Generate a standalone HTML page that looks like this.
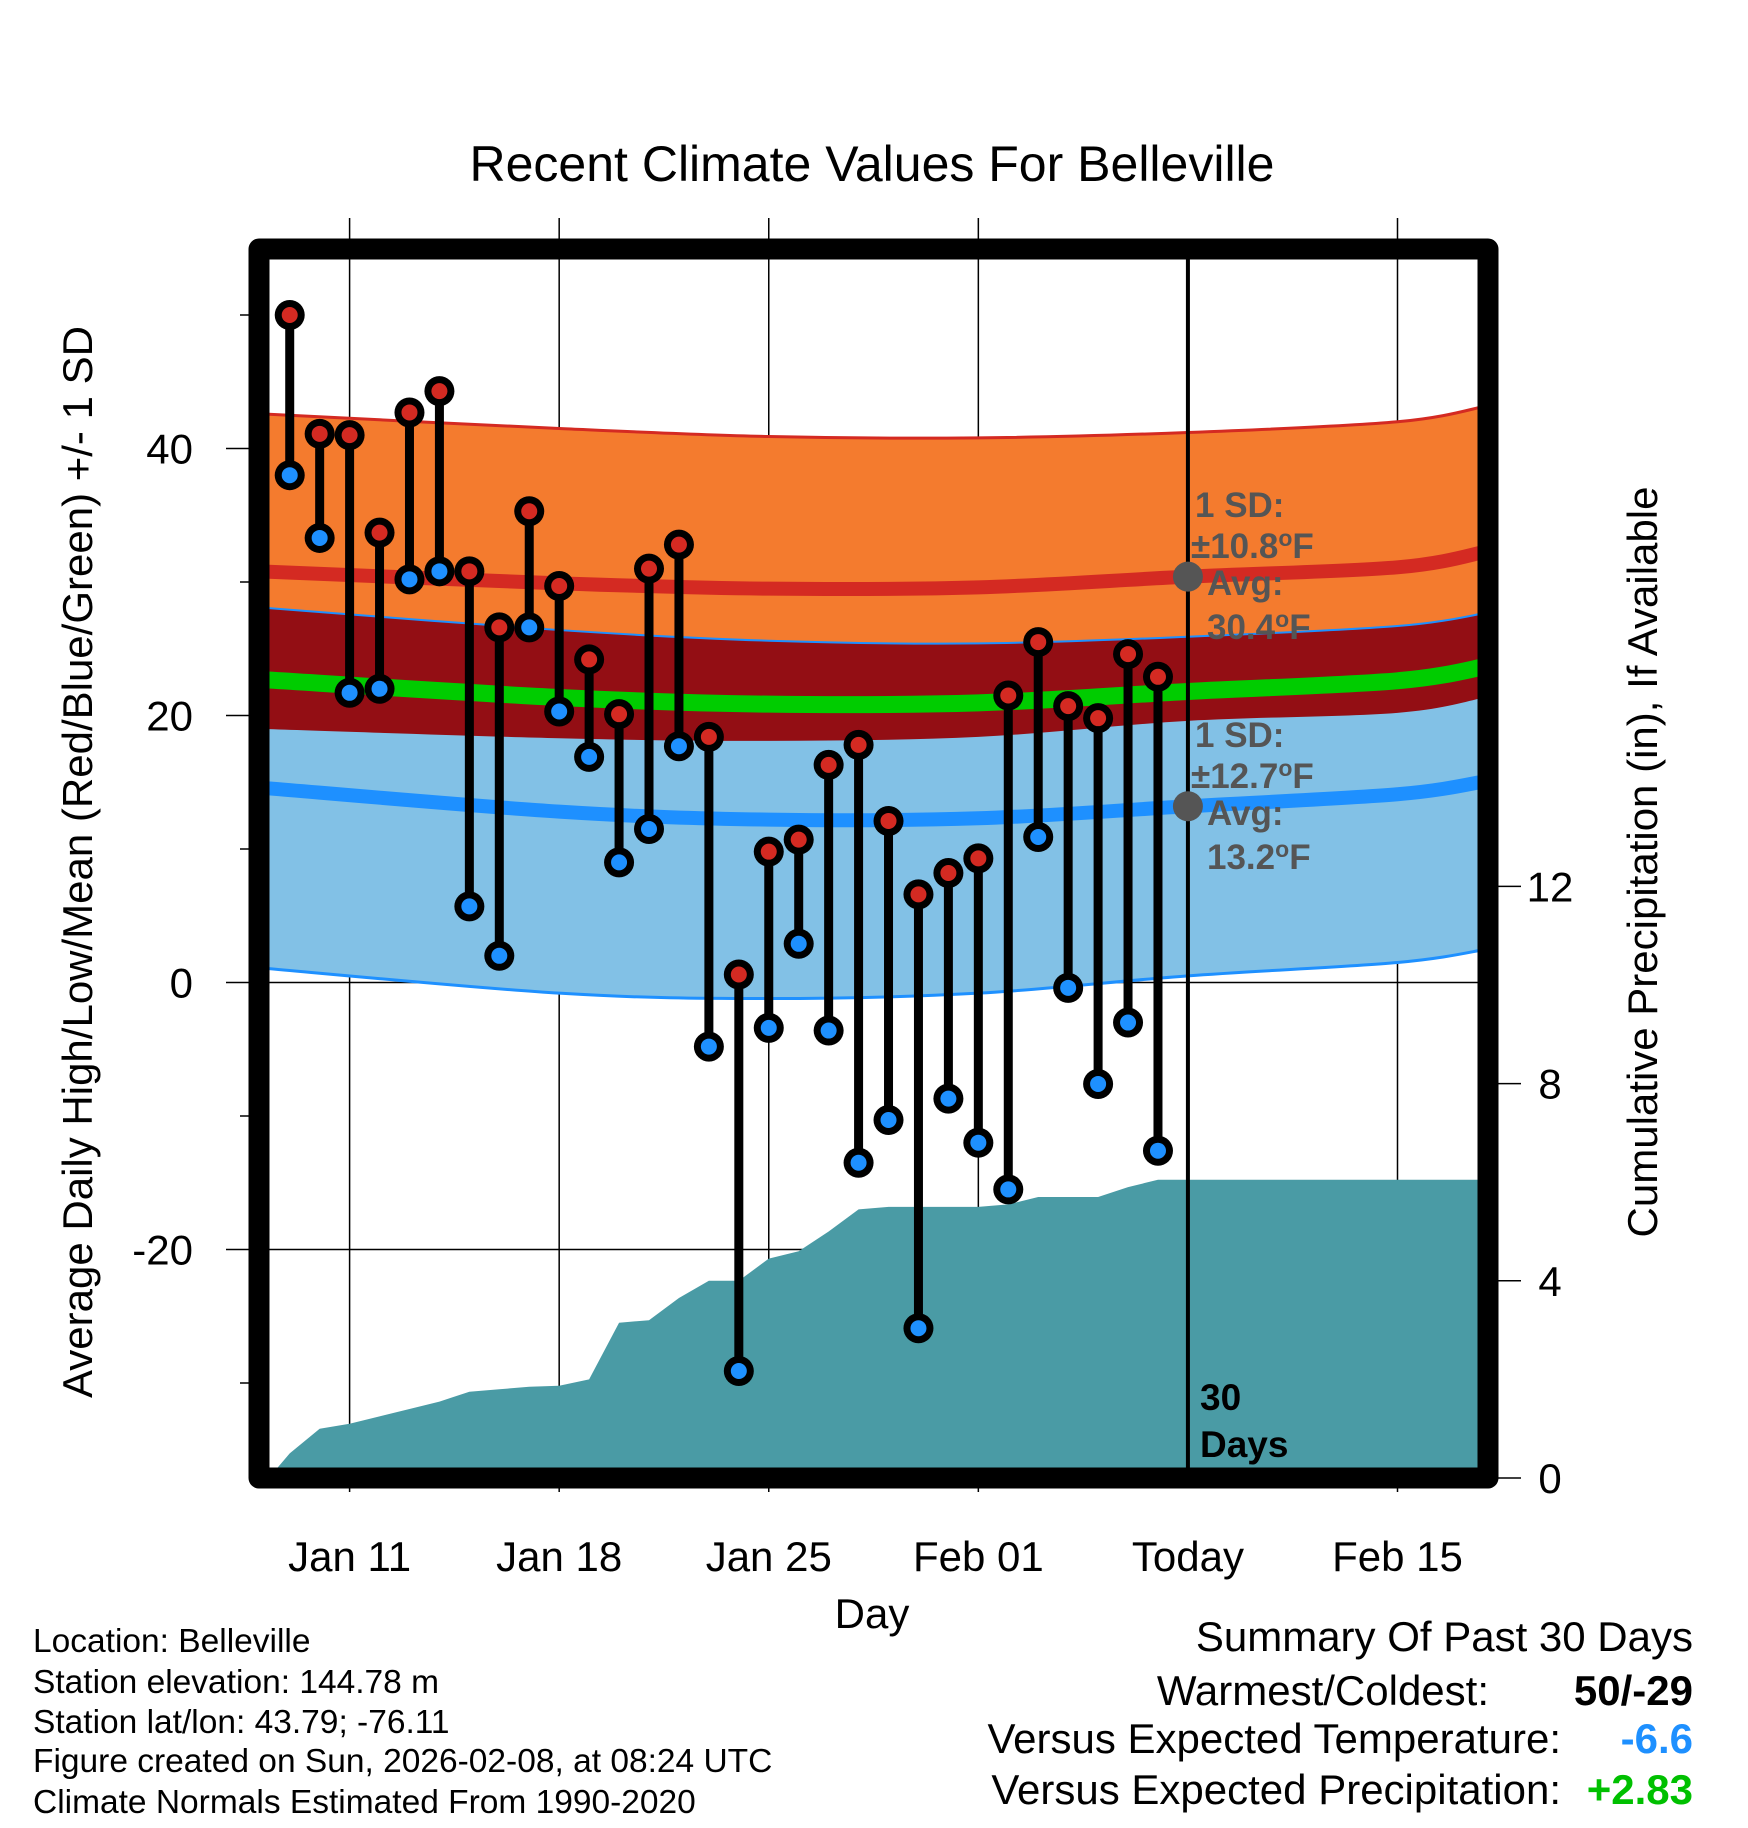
<!DOCTYPE html>
<html><head><meta charset="utf-8">
<style>
html,body{margin:0;padding:0;background:#fff;}
svg{display:block;font-family:"Liberation Sans",Arial,sans-serif;}
</style></head>
<body>
<svg id="chart" width="1748" height="1828" viewBox="0 0 1748 1828" xmlns="http://www.w3.org/2000/svg">
<defs><clipPath id="plotclip"><rect x="269" y="259" width="1210" height="1210"/></clipPath></defs>
<text x="872" y="181" font-size="50" text-anchor="middle">Recent Climate Values For Belleville</text>
<g id="grid"></g>
<g id="bands" clip-path="url(#plotclip)"></g>
<g id="precip" clip-path="url(#plotclip)"></g>
<g id="marks"></g>
<rect x="259" y="249" width="1229" height="1229" fill="none" stroke="#000" stroke-width="21" stroke-linejoin="round"/>
<g id="labels"></g>
<text transform="translate(92,862) rotate(-90)" font-size="42" text-anchor="middle">Average Daily High/Low/Mean (Red/Blue/Green) +/- 1 SD</text>
<text transform="translate(1657,862) rotate(-90)" font-size="42" text-anchor="middle">Cumulative Precipitation (in), If Available</text>
<text x="872" y="1628" font-size="42" text-anchor="middle">Day</text>
<g font-size="33.5">
<text x="33" y="1652">Location: Belleville</text>
<text x="33" y="1693">Station elevation: 144.78 m</text>
<text x="33" y="1733">Station lat/lon: 43.79; -76.11</text>
<text x="33" y="1772">Figure created on Sun, 2026-02-08, at 08:24 UTC</text>
<text x="33" y="1813">Climate Normals Estimated From 1990-2020</text>
</g>
<g font-size="42">
<text x="1693" y="1651" text-anchor="end">Summary Of Past 30 Days</text>
<text x="1489" y="1705" text-anchor="end">Warmest/Coldest:</text>
<text x="1693" y="1705" text-anchor="end" font-weight="bold">50/-29</text>
<text x="1561" y="1753" text-anchor="end">Versus Expected Temperature:</text>
<text x="1693" y="1753" text-anchor="end" font-weight="bold" fill="#1E90FF">-6.6</text>
<text x="1561" y="1804" text-anchor="end">Versus Expected Precipitation:</text>
<text x="1693" y="1804" text-anchor="end" font-weight="bold" fill="#00C000">+2.83</text>
</g>
</svg>
<script>
// ---- data ----
const dayLabels = ["Jan 9","Jan 10","Jan 11","Jan 12","Jan 13","Jan 14","Jan 15","Jan 16","Jan 17","Jan 18","Jan 19","Jan 20","Jan 21","Jan 22","Jan 23","Jan 24","Jan 25","Jan 26","Jan 27","Jan 28","Jan 29","Jan 30","Jan 31","Feb 1","Feb 2","Feb 3","Feb 4","Feb 5","Feb 6","Feb 7"];
const highs = [50,41.1,41.0,33.7,42.7,44.3,30.8,26.6,35.3,29.7,24.2,20.1,31.0,32.8,18.4,0.6,9.8,10.7,16.3,17.8,12.1,6.6,8.2,9.3,21.5,25.5,20.7,19.8,24.6,22.9];
const lows = [38.0,33.3,21.7,22.0,30.2,30.8,5.7,2.0,26.6,20.3,16.9,9.0,11.5,17.7,-4.8,-29.1,-3.4,2.9,-3.6,-13.5,-10.3,-25.9,-8.7,-12.0,-15.5,10.9,-0.4,-7.6,-3.0,-12.6];
const precip = [0.5,1.0,1.1,1.25,1.4,1.55,1.75,1.8,1.85,1.87,2.0,3.15,3.2,3.65,4.0,4.0,4.45,4.6,5.0,5.45,5.5,5.5,5.5,5.5,5.55,5.7,5.7,5.7,5.9,6.05];
// normals at knot days (offset from Jan 11)
const normDays = [-3,7,14,21,28,35,38];
const highMean = [30.8,29.9,29.5,29.6,30.4,31.1,32.3];
const highSD = [11.8,11.6,11.4,11.2,10.8,10.9,10.9];
const lowMean = [14.6,12.8,12.2,12.3,13.2,14.1,15.1];
const lowSD = [13.5,13.6,13.4,13.1,12.7,12.6,12.6];
const xTickDays = [0,7,14,21,28,35];
const xTickLabels = ["Jan 11","Jan 18","Jan 25","Feb 01","Today","Feb 15"];
const yTicks = [40,20,0,-20];
const yMinor = [50,30,10,-10,-30];
const pTicks = [0,4,8,12];

// ---- axes ----
const X = d => 349.6 + 29.94*d;
const Y = t => 982.5 - 13.35*t;
const P = p => 1478 - 49.3*p;
const NS = "http://www.w3.org/2000/svg";
function mk(tag, attrs, parent){const e=document.createElementNS(NS,tag);for(const k in attrs)e.setAttribute(k,attrs[k]);parent.appendChild(e);return e;}
const grid=document.getElementById('grid'),bands=document.getElementById('bands'),pg=document.getElementById('precip'),marks=document.getElementById('marks'),labels=document.getElementById('labels');

xTickDays.forEach((d,i)=>{
  if(xTickLabels[i]==="Today"){return;}
  const l=mk('line',{x1:X(d),x2:X(d),y1:218,y2:1492,stroke:'#000','stroke-width':1.5},grid);
  
  
});
yTicks.forEach(t=>{
  const l=mk('line',{x1:226,x2:1478,y1:Y(t),y2:Y(t),stroke:'#000','stroke-width':1.5},grid);
  
  
  const tx=mk('text',{x:193,y:Y(t)+15,'font-size':42,'text-anchor':'end'},labels);
  tx.textContent=t;
  
  
});
yMinor.forEach(t=>{
  const l=mk('line',{x1:240,x2:252,y1:Y(t),y2:Y(t),stroke:'#000','stroke-width':1.5},grid);
  
  
});
pTicks.forEach(p=>{
  const l=mk('line',{x1:1490,x2:1521,y1:P(p),y2:P(p),stroke:'#000','stroke-width':1.5},labels);
  
  
  const tx=mk('text',{x:1550,y:P(p)+15,'font-size':42,'text-anchor':'middle'},labels);
  tx.textContent=p;
  
  
});
xTickDays.forEach((d,i)=>{
  const tx=mk('text',{x:X(d),y:1571,'font-size':42,'text-anchor':'middle'},labels);
  tx.textContent=xTickLabels[i];
  
  
});

function pathPts(pts, start){
  let s=start+pts[0][0]+','+pts[0][1];
  for(let i=0;i<pts.length-1;i++){
    const p0=pts[Math.max(0,i-1)],p1=pts[i],p2=pts[i+1],p3=pts[Math.min(pts.length-1,i+2)];
    s+=` C${p1[0]+(p2[0]-p0[0])/6},${p1[1]+(p2[1]-p0[1])/6} ${p2[0]-(p3[0]-p1[0])/6},${p2[1]-(p3[1]-p1[1])/6} ${p2[0]},${p2[1]}`;
  }
  return s;
}
function curve(vals, fn){return pathPts(normDays.map((d,i)=>[X(d),fn(vals[i],i)]),'M');}
function revCurve(vals, fn){return pathPts(normDays.map((d,i)=>[X(d),fn(vals[i],i)]).reverse(),'L')+'Z';}
const hiTop=(v,i)=>Y(v+highSD[i]), hiBot=(v,i)=>Y(v-highSD[i]);
const loTop=(v,i)=>Y(v+lowSD[i]), loBot=(v,i)=>Y(v-lowSD[i]);
function band(d,fill,name){const e=mk('path',{d:d,fill:fill},bands);}
function line(d,stroke,w,name){const e=mk('path',{d:d,fill:'none',stroke:stroke,'stroke-width':w},bands);}
band(curve(highMean,hiTop)+revCurve(highMean,hiBot),'#F47B2E','high-sd-band');
band(curve(lowMean,loTop)+revCurve(lowMean,loBot),'#82C1E6','low-sd-band');
band(curve(lowMean,loTop)+revCurve(highMean,hiBot),'#930E14','overlap-band');
line(curve(highMean,hiTop),'#D42A22',3,'high-sd-top-line');
line(curve(lowMean,loTop),'#1E90FF',2,'low-sd-top-line');
line(curve(lowMean,loBot),'#1E90FF',3,'low-sd-bottom-line');
const meanVals=highMean.map((h,i)=>(h+lowMean[i])/2);
line(curve(meanVals,(v)=>Y(v)),'#00CC00',17,'mean-line');
line(curve(highMean,(v)=>Y(v)),'#D42A22',14,'high-mean-line');
line(curve(lowMean,(v)=>Y(v)),'#1E90FF',14,'low-mean-line');

let pd='M'+X(-2.7)+','+P(0);
precip.forEach((p,i)=>{pd+=' L'+X(i-2)+','+P(p);});
pd+=' L'+X(40)+','+P(precip[precip.length-1])+' L'+X(40)+','+P(-1)+' L'+X(-3)+','+P(-1)+'Z';
const pa=mk('path',{d:pd,fill:'#4A9BA5'},pg);



const tl=mk('line',{x1:X(28),x2:X(28),y1:255,y2:1470,stroke:'#000','stroke-width':4},marks);



highs.forEach((h,i)=>{
  const x=X(i-2), l=lows[i];
  const st=mk('line',{x1:x,x2:x,y1:Y(h),y2:Y(l),stroke:'#000','stroke-width':9},marks);
  
  
});
highs.forEach((h,i)=>{
  const x=X(i-2), l=lows[i];
  [[h,'#D42A22','high-dot'],[l,'#1E90FF','low-dot']].forEach(([v,c,n])=>{
    const o=mk('circle',{cx:x,cy:Y(v),r:15,fill:'#000'},marks);
    
    
    const d=mk('circle',{cx:x,cy:Y(v),r:8,fill:c},marks);
    
    
  });
});

const annHigh=highMean[4], annLow=lowMean[4];
[[annHigh,'avg-high-marker'],[annLow,'avg-low-marker']].forEach(([v,n])=>{
  const c=mk('circle',{cx:X(28),cy:Y(v),r:15,fill:'#555'},marks);
  
  
});
function ann(lines,y0,name){
  const g=mk('g',{'font-size':35,'font-weight':'bold',fill:'#555'},marks);
  
  
  lines.forEach((t,i)=>{const e=mk('text',{x:[1195,1191,1207,1207][i],y:[y0,y0+41,y0+78,y0+122][i]},g);e.innerHTML=t;});
}
ann(['1 SD:','±10.8<tspan dy="-12" font-size="23">o</tspan><tspan dy="12">F</tspan>','Avg:','30.4<tspan dy="-12" font-size="23">o</tspan><tspan dy="12">F</tspan>'],517,'high-normal-annotation');
ann(['1 SD:','±12.7<tspan dy="-12" font-size="23">o</tspan><tspan dy="12">F</tspan>','Avg:','13.2<tspan dy="-12" font-size="23">o</tspan><tspan dy="12">F</tspan>'],747,'low-normal-annotation');
const dg=mk('g',{'font-size':37,'font-weight':'bold',fill:'#000'},marks);


mk('text',{x:1200,y:1410},dg).textContent='30';
mk('text',{x:1200,y:1457},dg).textContent='Days';
</script>
</body></html>
